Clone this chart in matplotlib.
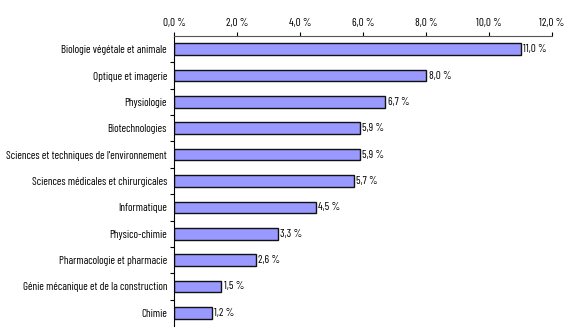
import matplotlib.pyplot as plt
from matplotlib.ticker import FixedLocator

# Data, top to bottom as shown
categories = [
    "Biologie végétale et animale",
    "Optique et imagerie",
    "Physiologie",
    "Biotechnologies",
    "Sciences et techniques de l'environnement",
    "Sciences médicales et chirurgicales",
    "Informatique",
    "Physico-chimie",
    "Pharmacologie et pharmacie",
    "Génie mécanique et de la construction",
    "Chimie",
]
values = [11.0, 8.0, 6.7, 5.9, 5.9, 5.7, 4.5, 3.3, 2.6, 1.5, 1.2]
x_ticks = [0, 2, 4, 6, 8, 10, 12]


def fr_pct(v):
    return f"{v:.1f}".replace(".", ",") + " %"


plt.rcParams['font.family'] = ['Barlow Condensed', 'DejaVu Sans']
plt.rcParams['font.size'] = 8

fig = plt.figure(figsize=(5.64, 3.31), dpi=100)
ax = fig.add_axes([174 / 564, 5 / 331, (552 - 174) / 564, (326 - 36) / 331])

y = list(range(len(categories)))
ax.barh(y, values, height=0.44, color='#9999FF', edgecolor='#111111', linewidth=1)

for yi, v in zip(y, values):
    ax.text(v + 0.08, yi, fr_pct(v), va='center', ha='left')

ax.set_xlim(0, 12)
ax.set_ylim(len(categories) - 0.5, -0.5)
ax.xaxis.tick_top()
ax.set_xticks(x_ticks)
ax.set_xticklabels([fr_pct(t) for t in x_ticks])
ax.tick_params(axis='x', direction='out', length=3, width=0.8, pad=3)

ax.set_yticks(y)
ax.set_yticklabels(categories)
ax.tick_params(axis='y', which='major', length=0, pad=5)
ax.yaxis.set_minor_locator(FixedLocator([i + 0.5 for i in range(len(categories) - 1)]))
ax.tick_params(axis='y', which='minor', direction='out', length=3, width=0.8)

for side in ['right', 'bottom']:
    ax.spines[side].set_visible(False)
ax.spines['top'].set_color('#555555')
ax.spines['left'].set_color('#000000')

fig.savefig('out.png', dpi=100)
